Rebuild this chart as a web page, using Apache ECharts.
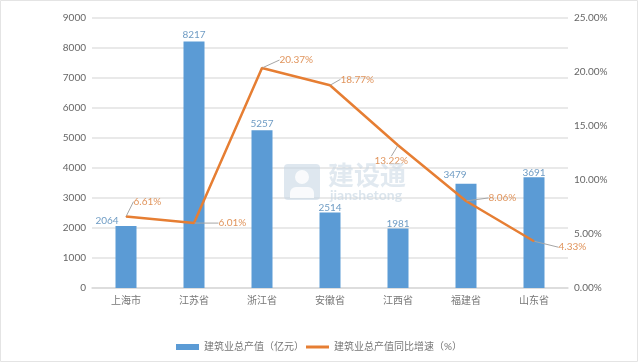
<!DOCTYPE html>
<html>
<head>
<meta charset="utf-8">
<script src="https://cdn.jsdelivr.net/npm/echarts@6/dist/echarts.min.js"></script>
<style>
html, body { margin: 0; padding: 0; background: #fff; }
#main { width: 640px; height: 363px; }
</style>
</head>
<body>
<div id="main"></div>
<script>
var provinces = ['上海市', '江苏省', '浙江省', '安徽省', '江西省', '福建省', '山东省'];
var outputValues = [2064, 8217, 5257, 2514, 1981, 3479, 3691];
var growthRates = [6.61, 6.01, 20.37, 18.77, 13.22, 8.06, 4.33];
var barName = '建筑业总产值（亿元）';
var lineName = '建筑业总产值同比增速（%）';
// label offsets from each point, for the leader lines
var labelDx = [7, 24, 17, 10, -24, 22, 24];
var labelDy = [-15, 0, -8, -6, 16, -3, 6];
var barLabelDx = [-19, 0, 0, 0, 0, -11, 0];
var barLabelDy = [2, 0, 0, 2, 2, -2, 3];

var font = 'Lato, "Noto Sans CJK SC", sans-serif';
var chart = echarts.init(document.getElementById('main'));

chart.setOption({
	animation: false,
	backgroundColor: '#fff',
	textStyle: { fontFamily: font },
	grid: { left: 92, right: 72, top: 18, bottom: 75 },
	legend: {
		bottom: 6,
		left: 171,
		itemWidth: 23,
		itemHeight: 6,
		itemGap: 2,
		textStyle: { fontSize: 10, color: '#777', fontFamily: font },
		data: [
			{ name: barName, icon: 'rect' },
			{ name: lineName, icon: 'path://M0 0H23V3H0Z' }
		]
	},
	xAxis: {
		type: 'category',
		data: provinces,
		axisTick: { show: false },
		axisLine: { lineStyle: { color: '#d9d9d9', width: 1.5 } },
		axisLabel: { color: '#777', fontSize: 10, margin: 8 }
	},
	yAxis: [{
		type: 'value',
		min: 0,
		max: 9000,
		interval: 1000,
		axisLine: { show: false },
		axisTick: { show: false },
		axisLabel: {
			color: '#666',
			fontSize: 10,
			margin: 6,
			formatter: function(v) { return String(v); }
		},
		splitLine: { lineStyle: { color: '#e2e2e2', width: 1.5 } }
	}, {
		type: 'value',
		min: 0,
		max: 25,
		interval: 5,
		axisLine: { show: false },
		axisTick: { show: false },
		splitLine: { show: false },
		axisLabel: {
			color: '#666',
			fontSize: 10,
			margin: 6,
			formatter: function(v) { return v.toFixed(2) + '%'; }
		}
	}],
	series: [{
		name: barName,
		type: 'bar',
		barWidth: 21,
		data: outputValues,
		itemStyle: { color: '#5b9bd5' },
		label: { show: true, position: 'top', distance: 2, color: '#6f9cc4', fontSize: 10 },
		labelLayout: function(p) {
			return { dx: barLabelDx[p.dataIndex], dy: barLabelDy[p.dataIndex] };
		}
	}, {
		name: lineName,
		type: 'line',
		yAxisIndex: 1,
		data: growthRates,
		showSymbol: true,
		symbol: 'circle',
		symbolSize: 1,
		lineStyle: { color: '#e67e33', width: 2.5 },
		itemStyle: { color: '#e67e33' },
		label: {
			show: true,
			position: 'right',
			distance: 0,
			color: '#e0945c',
			fontSize: 10,
			formatter: function(p) { return p.value.toFixed(2) + '%'; }
		},
		labelLine: { show: true, lineStyle: { color: '#a6a6a6', width: 1 } },
		labelLayout: function(p) {
			return { dx: labelDx[p.dataIndex], dy: labelDy[p.dataIndex] };
		}
	}],
	graphic: [
		{ type: 'rect', silent: true, z: 100, shape: { x: 0.5, y: 0.5, width: 637, height: 361 }, style: { fill: 'none', stroke: '#e4e4e4', lineWidth: 1 } },
		{ type: 'rect', silent: true, z: 100, shape: { x: 284, y: 164, width: 36, height: 36, r: 4 }, style: { fill: 'rgba(200,215,228,0.6)' } },
		{ type: 'circle', silent: true, z: 101, shape: { cx: 302, cy: 177, r: 7 }, style: { fill: 'rgba(255,255,255,0.8)' } },
		{ type: 'rect', silent: true, z: 101, shape: { x: 290, y: 187, width: 24, height: 11, r: [6, 6, 0, 0] }, style: { fill: 'rgba(255,255,255,0.8)' } },
		{ type: 'text', silent: true, z: 100, style: { x: 328, y: 162, text: '建设通', fill: 'rgba(200,215,228,0.55)', font: 'bold 26px "Noto Sans CJK SC"' } },
		{ type: 'text', silent: true, z: 100, style: { x: 330, y: 188, text: 'jianshetong', fill: 'rgba(200,215,228,0.65)', font: 'bold 14px Lato' } }
	]
});
</script>
</body>
</html>
